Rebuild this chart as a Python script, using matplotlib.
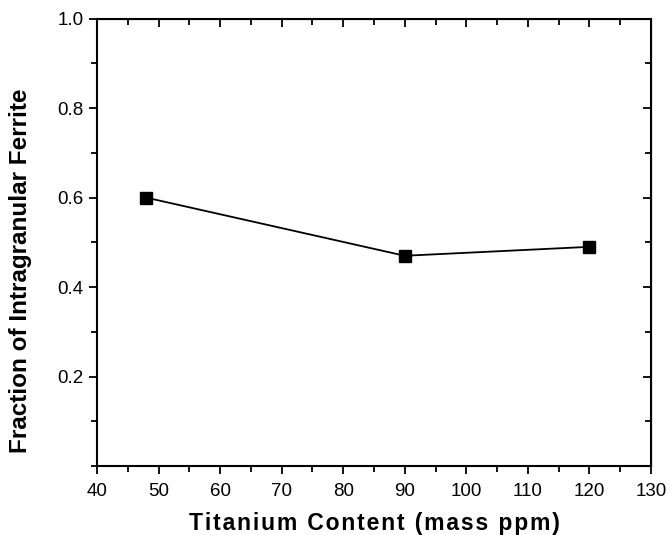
import matplotlib
matplotlib.use('Agg')
import matplotlib.pyplot as plt
from matplotlib.ticker import MultipleLocator

ti_content = [48, 90, 120]
ferrite_frac = [0.60, 0.47, 0.49]
x_ticks = [40, 50, 60, 70, 80, 90, 100, 110, 120, 130]
y_ticks = [0.2, 0.4, 0.6, 0.8, 1.0]

plt.rcParams['font.family'] = ['Liberation Sans', 'DejaVu Sans']

fig = plt.figure(figsize=(6.69, 5.35), dpi=100)
ax = fig.add_axes([0.145, 0.129, 0.828, 0.836])

ax.plot(ti_content, ferrite_frac, color='black', lw=1.3,
        marker='s', ms=9, mfc='black', mec='black')

ax.set_xlim(40, 130)
ax.set_ylim(0, 1.0)
ax.set_xticks(x_ticks)
ax.set_yticks(y_ticks)
ax.set_yticklabels(['%.1f' % v for v in y_ticks])
ax.xaxis.set_minor_locator(MultipleLocator(5))
ax.yaxis.set_minor_locator(MultipleLocator(0.1))

for s in ax.spines.values():
    s.set_linewidth(1.5)
ax.tick_params(which='both', direction='out', width=1.3, labelsize=13.5)
ax.tick_params(which='major', length=6)
ax.tick_params(which='minor', length=4)
ax.tick_params(axis='x', pad=6)

# inward ticks on the top and right edges
top = ax.secondary_xaxis('top')
top.set_xticks(x_ticks)
top.xaxis.set_minor_locator(MultipleLocator(5))
top.tick_params(which='both', direction='in', labeltop=False, width=1.3)
top.tick_params(which='major', length=6)
top.tick_params(which='minor', length=4)
right = ax.secondary_yaxis('right')
right.set_yticks(y_ticks)
right.yaxis.set_minor_locator(MultipleLocator(0.1))
right.tick_params(which='both', direction='in', labelright=False, width=1.3)
right.tick_params(which='major', length=6)
right.tick_params(which='minor', length=4)

xlab = '\u200a'.join('Titanium Content (mass ppm)')
ax.set_xlabel(xlab, fontsize=16.5, fontweight='bold', labelpad=9)
ax.set_ylabel('Fraction of Intragranular Ferrite',
              fontsize=17.5, fontweight='bold')
ax.yaxis.set_label_coords(-0.117, 0.436)

fig.savefig('out.png', dpi=100)
